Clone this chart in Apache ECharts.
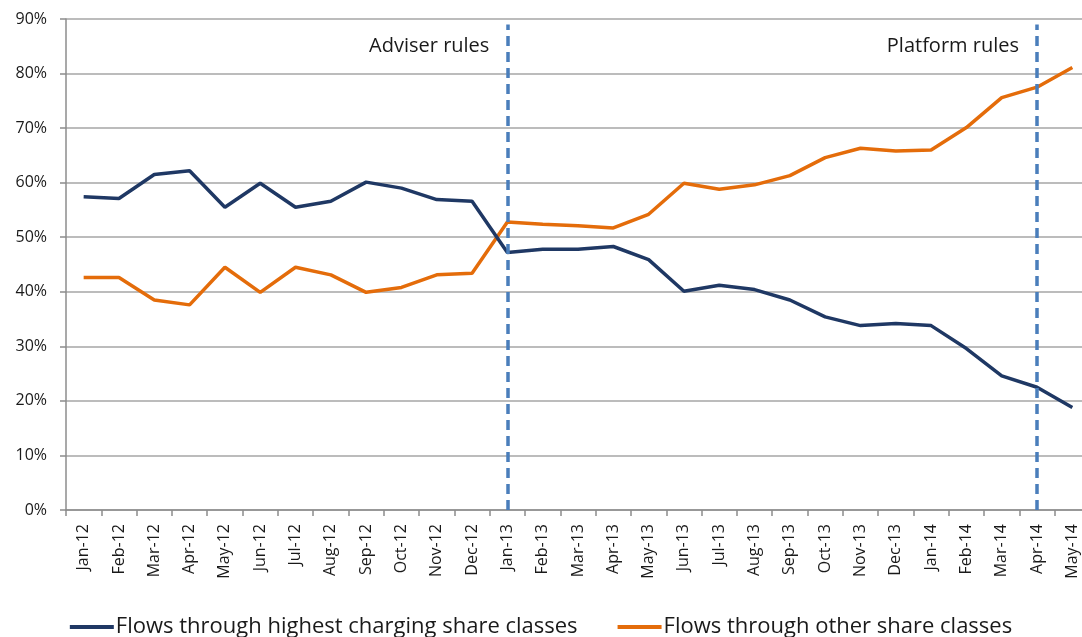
<!DOCTYPE html>
<html>
<head>
<meta charset="utf-8">
<script src="https://cdn.jsdelivr.net/npm/echarts@6/dist/echarts.min.js"></script>
<style>
html,body{margin:0;padding:0;background:#fff;}
#chart{width:1082px;height:637px;}
</style>
</head>
<body>
<div id="chart"></div>
<script>
const categories = ['Jan-12','Feb-12','Mar-12','Apr-12','May-12','Jun-12','Jul-12','Aug-12','Sep-12','Oct-12','Nov-12','Dec-12',
  'Jan-13','Feb-13','Mar-13','Apr-13','May-13','Jun-13','Jul-13','Aug-13','Sep-13','Oct-13','Nov-13','Dec-13',
  'Jan-14','Feb-14','Mar-14','Apr-14','May-14'];
const highestCharging = [57.4,57.1,61.5,62.2,55.5,59.9,55.5,56.6,60.1,59.0,56.9,56.6,
  47.2,47.8,47.8,48.3,45.9,40.1,41.2,40.4,38.5,35.4,33.8,34.2,
  33.8,29.6,24.6,22.5,18.8];
const otherClasses = [42.6,42.6,38.5,37.6,44.5,39.9,44.5,43.1,39.9,40.8,43.1,43.4,
  52.8,52.4,52.1,51.7,54.2,59.9,58.8,59.6,61.3,64.6,66.3,65.8,
  66.0,70.1,75.6,77.5,81.1];
const seriesNames = ['Flows through highest charging share classes','Flows through other share classes'];
const eventMarkers = [
  {category:'Jan-13', label:'Adviser rules'},
  {category:'Apr-14', label:'Platform rules'}
];
const yTicks = {min:0, max:90, interval:10};

const chart = echarts.init(document.getElementById('chart'), null, {renderer:'canvas'});
const font = 'Open Sans, DejaVu Sans, sans-serif';
chart.setOption({
  animation:false,
  backgroundColor:'#ffffff',
  grid:{left:66, width:1024, top:19, height:491, containLabel:false, outerBoundsMode:'none'},
  legend:{
    top:611, left:'center',
    itemWidth:44, itemHeight:4, itemGap:40,
    icon:'rect',
    textStyle:{fontFamily:font, fontSize:22, color:'#1a1a1a', padding:[0,0,0,-3]},
    data:seriesNames
  },
  xAxis:{
    type:'category', data:categories, boundaryGap:true,
    axisLine:{lineStyle:{color:'#8c8c8c', width:1.5}},
    axisTick:{show:true, alignWithLabel:false, length:6, lineStyle:{color:'#8c8c8c', width:1.5}},
    axisLabel:{rotate:90, interval:0, margin:14, fontFamily:font, fontSize:16, color:'#1a1a1a', hideOverlap:false},
    splitLine:{show:false}
  },
  yAxis:{
    type:'value', min:yTicks.min, max:yTicks.max, interval:yTicks.interval,
    axisLine:{show:true, lineStyle:{color:'#8c8c8c', width:1.5}},
    axisTick:{show:true, length:6, lineStyle:{color:'#8c8c8c', width:1.5}},
    axisLabel:{formatter:'{value}%', margin:19, fontFamily:font, fontSize:16, color:'#1a1a1a'},
    splitLine:{show:true, lineStyle:{color:'#a6a6a6', width:1.5}}
  },
  series:[
    {
      name:seriesNames[0], type:'line', data:highestCharging,
      symbol:'none', smooth:false,
      lineStyle:{color:'#1F3864', width:3.5},
      itemStyle:{color:'#1F3864'},
      z:3
    },
    {
      name:seriesNames[1], type:'line', data:otherClasses,
      symbol:'none', smooth:false,
      lineStyle:{color:'#E46C0A', width:3.5},
      itemStyle:{color:'#E46C0A'},
      z:2,
      markLine:{
        silent:true, symbol:['none','none'],
        lineStyle:{color:'#4A7EBB', width:3.5, type:[10,6]},
        label:{show:false},
        data:eventMarkers.map(m => [{coord:[m.category,0]},{coord:[m.category,89]}])
      },
      markPoint:{
        silent:true, symbol:'circle', symbolSize:0,
        data:eventMarkers.map(m => ({
          coord:[m.category,85],
          label:{show:true, position:'left', distance:18, formatter:m.label,
            fontFamily:font, fontSize:20, color:'#1a1a1a'}
        }))
      }
    }
  ]
});
</script>
</body>
</html>
